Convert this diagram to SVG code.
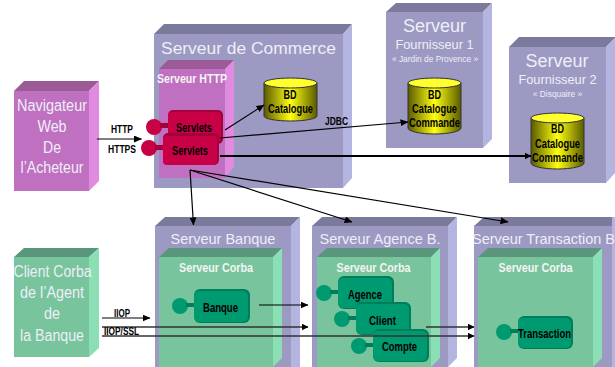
<svg xmlns="http://www.w3.org/2000/svg" width="615" height="367" viewBox="0 0 615 367">
<style>
text{font-family:"Liberation Sans",Arial,sans-serif;text-anchor:middle}
.t{fill:#eeeef8}
.b{font-weight:bold;fill:#000;font-size:13px}
.w{font-weight:bold;fill:#f4f4f4;font-size:13px}
.s{font-weight:bold;fill:#000;font-size:11px}
.p1{fill:#9c9ac2}.p2{fill:#7c7a9c}.p3{fill:#b4b4e0}
.m1{fill:#c070c0}.m2{fill:#9c5a96}.m3{fill:#e08ae0}
.g1{fill:#78c49c}.g2{fill:#5a967c}.g3{fill:#8ae0b4}
.c{fill:#009a70}.cd{fill:#007e5c}
.r{fill:#c80046}.rd{fill:#a4003a}
.cf{fill:url(#cyl);stroke:#333;stroke-width:1}
.ct{fill:#ffff30;stroke:#333;stroke-width:1}
.a{stroke:#000;stroke-width:1.200;fill:none;marker-end:url(#ah)}
.h{stroke:#000;stroke-width:2;fill:none;marker-end:url(#ah2)}
.d{stroke:#333;stroke-width:1.500;fill:none;marker-end:url(#ah2)}
</style>
<defs>
<marker id="ah" markerWidth="8" markerHeight="7" refX="7.500" refY="3.500" orient="auto" markerUnits="userSpaceOnUse"><path d="M0 0L8 3.500L0 7Z" fill="#000"/></marker>
<marker id="ah2" markerWidth="7" markerHeight="7" refX="6.500" refY="3.500" orient="auto" markerUnits="userSpaceOnUse"><path d="M0 0L7 3.500L0 7Z" fill="#000"/></marker>
<linearGradient id="cyl"><stop offset="0" stop-color="#5a5a00"/><stop offset=".5" stop-color="#ffff10"/><stop offset="1" stop-color="#5a5a00"/></linearGradient>
</defs>

<g id="navigateur"><path class="m2" d="M14 91L24 81H99L89 91Z"/><path class="m3" d="M89 91L99 81V181L89 191Z"/><rect class="m1" x="14" y="91" width="75" height="100"/>
<g class="t" font-size="16"><text x="52" y="111" textLength="70" lengthAdjust="spacingAndGlyphs">Navigateur</text><text x="52" y="132" textLength="29" lengthAdjust="spacingAndGlyphs">Web</text><text x="52" y="153" textLength="18" lengthAdjust="spacingAndGlyphs">De</text><text x="52" y="173" textLength="63" lengthAdjust="spacingAndGlyphs">l’Acheteur</text></g></g>

<g id="client-corba"><path class="g2" d="M14 257L24 248H99L89 257Z"/><path class="g3" d="M89 257L99 248V348L89 357Z"/><rect class="g1" x="14" y="257" width="75" height="100"/>
<g class="t" font-size="16"><text x="52.500" y="277" textLength="78" lengthAdjust="spacingAndGlyphs">Client Corba</text><text x="52" y="298" textLength="64" lengthAdjust="spacingAndGlyphs">de l’Agent</text><text x="52" y="319" textLength="16" lengthAdjust="spacingAndGlyphs">de</text><text x="52" y="341" textLength="64" lengthAdjust="spacingAndGlyphs">la Banque</text></g></g>

<g id="serveur-commerce"><path class="p2" d="M154 34L164 24H352L343 34Z"/><path class="p3" d="M343 34L352 24V178L343 188Z"/><rect class="p1" x="154" y="34" width="189" height="154"/>
<text class="t" x="248.500" y="54" font-size="17.400">Serveur de Commerce</text></g>

<g id="serveur-http"><path class="m2" d="M159 69L168 60H234L225 69Z"/><path class="m3" d="M225 69L234 60V167L225 178Z"/><rect class="m1" x="159" y="69" width="66" height="109"/>
<text class="w" x="192" y="83" textLength="70" lengthAdjust="spacingAndGlyphs">Serveur HTTP</text></g>

<g id="servlets-1"><circle class="r" cx="154" cy="127" r="8"/><rect class="rd" x="160" y="123" width="10" height="5"/><rect class="rd" x="168" y="110" width="55" height="34" rx="5"/><rect class="r" x="168" y="112" width="53" height="30" rx="4"/><text class="b" x="194" y="132" textLength="36" lengthAdjust="spacingAndGlyphs">Servlets</text></g>
<g id="servlets-2"><circle class="r" cx="149" cy="148" r="8"/><rect class="rd" x="155" y="145" width="10" height="5"/><rect class="rd" x="163" y="133" width="56" height="32" rx="5"/><rect class="r" x="163" y="136" width="54" height="29" rx="4"/><text class="b" x="190" y="155" textLength="36" lengthAdjust="spacingAndGlyphs">Servlets</text></g>

<g id="bd-catalogue"><path class="cf" d="M264 83V116A26.500 5 0 0 0 317 116V83Z"/><ellipse class="ct" cx="290.500" cy="83" rx="26.500" ry="5"/><text class="b" x="290" y="99" textLength="13" lengthAdjust="spacingAndGlyphs">BD</text><text class="b" x="290.500" y="113" textLength="45" lengthAdjust="spacingAndGlyphs">Catalogue</text></g>

<g id="serveur-fournisseur-1"><path class="p2" d="M386 12L396 3H492L483 12Z"/><path class="p3" d="M483 12L492 3V139L483 148Z"/><rect class="p1" x="386" y="12" width="97" height="136"/>
<text class="t" x="434.500" y="32" font-size="18">Serveur</text><text class="t" x="434.500" y="49" font-size="12.800">Fournisseur 1</text><text class="t" x="435" y="62" font-size="8.400">« Jardin de Provence »</text>
<path class="cf" d="M408 83V128A26.500 6 0 0 0 461 128V83Z"/><ellipse class="ct" cx="434.500" cy="83" rx="26.500" ry="5"/><text class="b" x="434.500" y="99" textLength="13" lengthAdjust="spacingAndGlyphs">BD</text><text class="b" x="434.500" y="113" textLength="45" lengthAdjust="spacingAndGlyphs">Catalogue</text><text class="b" x="434.500" y="127" textLength="51" lengthAdjust="spacingAndGlyphs">Commande</text></g>

<g id="serveur-fournisseur-2"><path class="p2" d="M509 47L519 37H615V38L606 47Z"/><path class="p3" d="M606 47L615 38V173L606 183Z"/><rect class="p1" x="509" y="47" width="97" height="136"/>
<text class="t" x="557" y="67" font-size="18">Serveur</text><text class="t" x="557.500" y="84" font-size="12.800">Fournisseur 2</text><text class="t" x="557.500" y="97" font-size="8.400">« Disquaire »</text>
<path class="cf" d="M531 118V163A26.500 6 0 0 0 584 163V118Z"/><ellipse class="ct" cx="557.500" cy="118" rx="26.500" ry="5"/><text class="b" x="557.500" y="133" textLength="13" lengthAdjust="spacingAndGlyphs">BD</text><text class="b" x="557.500" y="148" textLength="45" lengthAdjust="spacingAndGlyphs">Catalogue</text><text class="b" x="557.500" y="162" textLength="51" lengthAdjust="spacingAndGlyphs">Commande</text></g>

<g id="serveur-banque"><path class="p2" d="M155 226L165 217H300L291 226Z"/><path class="p3" d="M291 226L300 217V367H291Z"/><rect class="p1" x="155" y="226" width="136" height="141"/>
<text class="t" x="223" y="244" font-size="14.500">Serveur Banque</text>
<path class="g2" d="M159 257L169 248H282L273 257Z"/><path class="g3" d="M273 257L282 248V358L273 367Z"/><rect class="g1" x="159" y="257" width="114" height="110"/>
<text class="w" x="216" y="272" textLength="74" lengthAdjust="spacingAndGlyphs">Serveur Corba</text></g>
<g id="banque"><circle class="c" cx="180" cy="306" r="8"/><rect class="cd" x="186" y="303" width="10" height="4"/><rect class="cd" x="194" y="289" width="56" height="34" rx="6"/><rect class="c" x="194" y="291" width="54" height="31" rx="5"/><text class="b" x="220.500" y="312" textLength="35" lengthAdjust="spacingAndGlyphs">Banque</text></g>

<g id="serveur-agence"><path class="p2" d="M312 226L322 217H457L448 226Z"/><path class="p3" d="M448 226L457 217V358L448 367Z"/><rect class="p1" x="312" y="226" width="136" height="141"/>
<text class="t" x="380" y="244" font-size="14.500">Serveur Agence B.</text>
<path class="g2" d="M317 257L327 248H440L431 257Z"/><path class="g3" d="M431 257L440 248V358L431 367Z"/><rect class="g1" x="317" y="257" width="114" height="110"/>
<text class="w" x="373.500" y="272" textLength="74" lengthAdjust="spacingAndGlyphs">Serveur Corba</text></g>
<g id="agence"><circle class="c" cx="324" cy="293" r="8"/><rect class="cd" x="330" y="290" width="10" height="4"/><rect class="cd" x="338" y="276" width="56" height="33" rx="6"/><rect class="c" x="338" y="278" width="54" height="30" rx="5"/><text class="b" x="365" y="299" textLength="34" lengthAdjust="spacingAndGlyphs">Agence</text></g>
<g id="client"><circle class="c" cx="342" cy="319" r="8"/><rect class="cd" x="348" y="316" width="10" height="4"/><rect class="cd" x="356" y="302" width="55" height="33" rx="6"/><rect class="c" x="356" y="304" width="53" height="30" rx="5"/><text class="b" x="382.500" y="325" textLength="27" lengthAdjust="spacingAndGlyphs">Client</text></g>
<g id="compte"><circle class="c" cx="359" cy="346" r="8"/><rect class="cd" x="365" y="343" width="10" height="4"/><rect class="cd" x="373" y="329" width="56" height="33" rx="6"/><rect class="c" x="373" y="331" width="54" height="30" rx="5"/><text class="b" x="399.500" y="351" textLength="35" lengthAdjust="spacingAndGlyphs">Compte</text></g>

<g id="serveur-transaction"><path class="p2" d="M474 226L484 217H615V226Z"/><rect class="p3" x="612" y="217" width="3" height="150"/><rect class="p1" x="474" y="226" width="138" height="141"/>
<text class="t" x="543.500" y="244" textLength="143" lengthAdjust="spacingAndGlyphs" font-size="14.500">Serveur Transaction B</text>
<path class="g2" d="M478 257L488 248H602L593 257Z"/><path class="g3" d="M593 257L602 248V358L593 367Z"/><rect class="g1" x="478" y="257" width="115" height="110"/>
<text class="w" x="535.500" y="272" textLength="74" lengthAdjust="spacingAndGlyphs">Serveur Corba</text></g>
<g id="transaction"><circle class="c" cx="504" cy="332" r="8"/><rect class="cd" x="510" y="329" width="10" height="4"/><rect class="cd" x="518" y="316" width="55" height="33" rx="6"/><rect class="c" x="518" y="318" width="53" height="30" rx="5"/><text class="b" x="544.500" y="338" textLength="53" lengthAdjust="spacingAndGlyphs">Transaction</text></g>

<g id="connectors">
<path class="a" d="M97 139H141.500"/>
<path class="a" d="M225 130L264 105"/>
<path class="a" d="M220 138L408 122"/>
<path class="h" d="M220 156H531"/>
<path class="a" d="M190 170L193.500 225"/>
<path class="a" d="M190 170L352 222"/>
<path class="a" d="M190 170L508 222"/>
<path class="a" d="M102 318H150"/>
<path class="a" d="M259 305H308"/>
<path class="d" d="M102 327H308"/>
<path class="d" d="M102 336H474"/>
<path class="d" d="M426 327H474"/>
</g>
<g id="labels">
<text class="s" x="122" y="133" textLength="22" lengthAdjust="spacingAndGlyphs">HTTP</text>
<text class="s" x="122" y="153" textLength="28" lengthAdjust="spacingAndGlyphs">HTTPS</text>
<text class="s" x="336.500" y="125" textLength="23" lengthAdjust="spacingAndGlyphs">JDBC</text>
<text class="s" x="122" y="317" textLength="16" lengthAdjust="spacingAndGlyphs">IIOP</text>
<text class="s" x="121.500" y="335" textLength="35" lengthAdjust="spacingAndGlyphs">IIOP/SSL</text>
</g>
</svg>
